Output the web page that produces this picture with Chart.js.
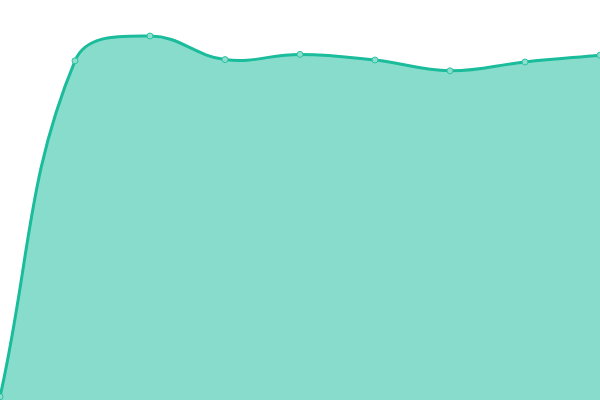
<!DOCTYPE html>
<html>
<head>
<meta charset="utf-8">
<script src="https://cdn.jsdelivr.net/npm/chart.js@4"></script>
<style>
  html, body { margin: 0; padding: 0; background: #fff; }
  #wrap { width: 600px; height: 400px; }
</style>
</head>
<body>
<div id="wrap"><canvas id="grafico"></canvas></div>
<script>
var labels = ["1", "2", "3", "4", "5", "6", "7", "8", "9"];
var valores = [0.8, 84.8, 91, 85.1, 86.4, 85, 82.3, 84.5, 86.2];

var ctx = grafico.getContext("2d");

new Chart(ctx, {
    type: "line",
    data: {
        labels: labels,
        datasets: [{
            data: valores,
            fill: true,
            backgroundColor: "rgba(26, 188, 156, 0.52)",
            borderColor: "#1abc9c",
            borderWidth: 3,
            tension: 0.4,
            pointRadius: 3,
            pointBorderWidth: 1,
            pointBackgroundColor: "#8ddecd",
            pointBorderColor: "#2cc2a4"
        }]
    },
    options: {
        responsive: true,
        maintainAspectRatio: false,
        animation: false,
        layout: { padding: 0, autoPadding: false },
        scales: {
            x: { display: false, offset: false },
            y: { display: false, min: 0, max: 100 }
        },
        plugins: {
            legend: { display: false },
            tooltip: { enabled: false }
        }
    }
});
</script>
</body>
</html>
